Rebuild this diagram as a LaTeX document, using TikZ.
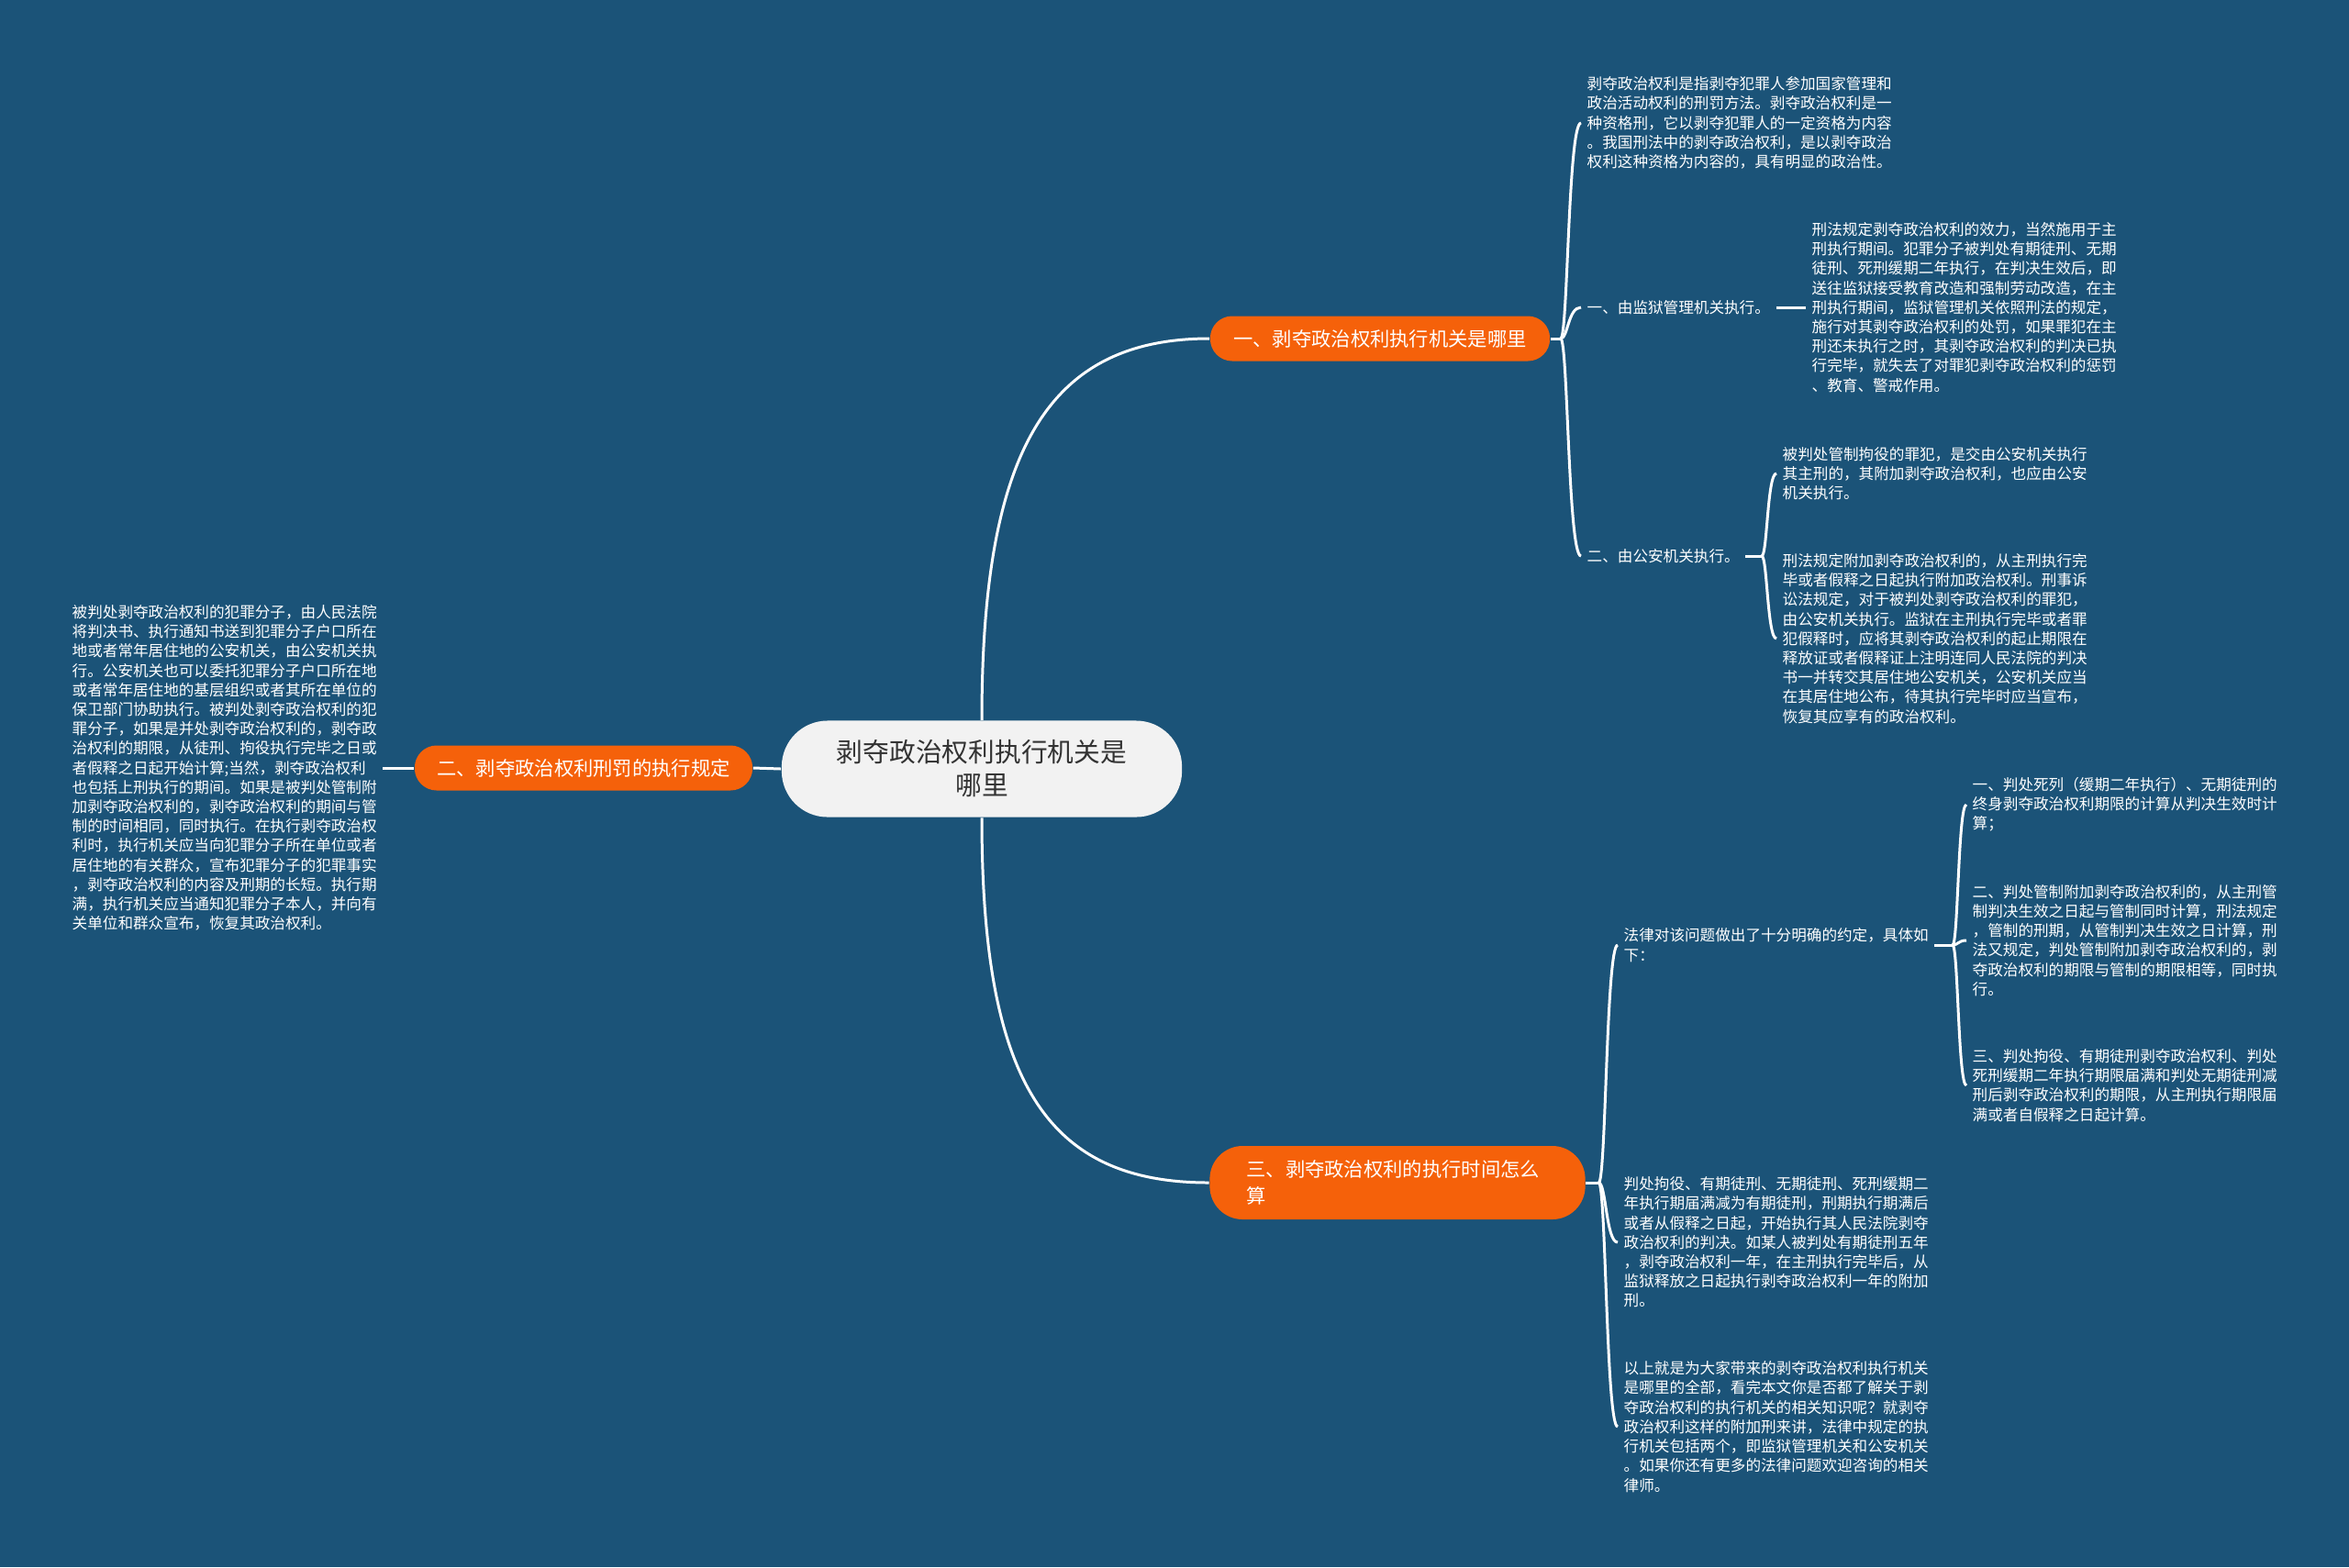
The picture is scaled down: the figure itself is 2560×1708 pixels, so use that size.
\documentclass[tikz,border=0pt]{standalone}
\usepackage{fontspec}
\setmainfont{Noto Sans CJK SC}
\usetikzlibrary{positioning,calc}
\definecolor{Bg}{HTML}{1B5378}
\definecolor{Orange}{HTML}{F5610A}
\definecolor{Root}{HTML}{F2F2F2}
\definecolor{Ink}{HTML}{333333}

\begin{document}
\begin{tikzpicture}[x=0.01cm,y=-0.01cm,
    root/.style={fill=Root,text=Ink,rounded corners=0.5cm,minimum width=4.36cm,
      minimum height=1.05cm,align=center,font=\fontsize{8.17}{10.24}\selectfont},
    topic/.style={fill=Orange,text=white,rounded corners=0.24cm,minimum height=0.49cm,
      align=center,font=\fontsize{6.06}{8.36}\selectfont},
    leaf/.style={text=white,anchor=west,align=left,inner sep=0.06cm,
      font=\fontsize{4.72}{6.03}\selectfont},
    link/.style={draw=white,line width=0.85pt}
  ]
  \fill[Bg] (0,0) rectangle (2560,1708);
  \useasboundingbox (0,0) rectangle (2560,1708);

  % centre and main topics
  \node[root] (root) at (1070,838) {剥夺政治权利执行机关是\\哪里};
  \node[topic,minimum width=3.7cm] (t1) at (1504,369) {一、剥夺政治权利执行机关是哪里};
  \node[topic,minimum width=3.68cm] (t2) at (636,837) {二、剥夺政治权利刑罚的执行规定};
  \node[topic,rounded corners=0.36cm,minimum height=0.8cm,text width=3.29cm,inner xsep=0.4cm,
    align=left] (t3) at (1523,1289) {三、剥夺政治权利的执行时间怎么\\算};

  \draw[link] (root.north) .. controls ($(root.north)+(0,-295)$) and ($(t1.west)+(-176,0)$) .. (t1.west);
  \draw[link] (root.south) .. controls ($(root.south)+(0,290)$) and ($(t3.west)+(-176,0)$) .. (t3.west);
  \draw[link] (root.west) -- (t2.east);

  % topic one
  \node[leaf] (def) at (1723,134) {剥夺政治权利是指剥夺犯罪人参加国家管理和\\政治活动权利的刑罚方法。剥夺政治权利是一\\种资格刑，它以剥夺犯罪人的一定资格为内容\\。我国刑法中的剥夺政治权利，是以剥夺政治\\权利这种资格为内容的，具有明显的政治性。};
  \node[leaf] (jail) at (1723,335) {一、由监狱管理机关执行。};
  \node[leaf] (jailtxt) at (1968,335) {刑法规定剥夺政治权利的效力，当然施用于主\\刑执行期间。犯罪分子被判处有期徒刑、无期\\徒刑、死刑缓期二年执行，在判决生效后，即\\送往监狱接受教育改造和强制劳动改造，在主\\刑执行期间，监狱管理机关依照刑法的规定，\\施行对其剥夺政治权利的处罚，如果罪犯在主\\刑还未执行之时，其剥夺政治权利的判决已执\\行完毕，就失去了对罪犯剥夺政治权利的惩罚\\、教育、警戒作用。};
  \node[leaf] (police) at (1723,606) {二、由公安机关执行。};
  \node[leaf] (polA) at (1936,516) {被判处管制拘役的罪犯，是交由公安机关执行\\其主刑的，其附加剥夺政治权利，也应由公安\\机关执行。};
  \node[leaf] (polB) at (1936,696) {刑法规定附加剥夺政治权利的，从主刑执行完\\毕或者假释之日起执行附加政治权利。刑事诉\\讼法规定，对于被判处剥夺政治权利的罪犯，\\由公安机关执行。监狱在主刑执行完毕或者罪\\犯假释时，应将其剥夺政治权利的起止期限在\\释放证或者假释证上注明连同人民法院的判决\\书一并转交其居住地公安机关，公安机关应当\\在其居住地公布，待其执行完毕时应当宣布，\\恢复其应享有的政治权利。};

  \coordinate (f1) at ($(t1.east)+(11,0)$);
  \draw[link] (t1.east) -- (f1);
  \foreach \c in {def,jail,police}
    \draw[link] (f1) .. controls ($(f1)+(8,0)$) and ($(f1|-\c.west)+(8,0)$) .. (\c.west);
  \draw[link] (jail.east) -- (jailtxt.west);
  \coordinate (f2) at (1920,606);
  \draw[link] (police.east) -- (f2);
  \foreach \c in {polA,polB}
    \draw[link] (f2) .. controls ($(f2)+(6,0)$) and ($(f2|-\c.west)+(6,0)$) .. (\c.west);

  % topic two
  \node[leaf] (rule) at (72,837) {被判处剥夺政治权利的犯罪分子，由人民法院\\将判决书、执行通知书送到犯罪分子户口所在\\地或者常年居住地的公安机关，由公安机关执\\行。公安机关也可以委托犯罪分子户口所在地\\或者常年居住地的基层组织或者其所在单位的\\保卫部门协助执行。被判处剥夺政治权利的犯\\罪分子，如果是并处剥夺政治权利的，剥夺政\\治权利的期限，从徒刑、拘役执行完毕之日或\\者假释之日起开始计算;当然，剥夺政治权利\\也包括上刑执行的期间。如果是被判处管制附\\加剥夺政治权利的，剥夺政治权利的期间与管\\制的时间相同，同时执行。在执行剥夺政治权\\利时，执行机关应当向犯罪分子所在单位或者\\居住地的有关群众，宣布犯罪分子的犯罪事实\\，剥夺政治权利的内容及刑期的长短。执行期\\满，执行机关应当通知犯罪分子本人，并向有\\关单位和群众宣布，恢复其政治权利。};
  \draw[link] (rule.east) -- (t2.west);

  % topic three
  \node[leaf] (law) at (1763,1030) {法律对该问题做出了十分明确的约定，具体如\\下：};
  \node[leaf] (termA) at (2143,877) {一、判处死列（缓期二年执行）、无期徒刑的\\终身剥夺政治权利期限的计算从判决生效时计\\算；};
  \node[leaf] (termB) at (2143,1025) {二、判处管制附加剥夺政治权利的，从主刑管\\制判决生效之日起与管制同时计算，刑法规定\\，管制的刑期，从管制判决生效之日计算，刑\\法又规定，判处管制附加剥夺政治权利的，剥\\夺政治权利的期限与管制的期限相等，同时执\\行。};
  \node[leaf] (termC) at (2143,1183) {三、判处拘役、有期徒刑剥夺政治权利、判处\\死刑缓期二年执行期限届满和判处无期徒刑减\\刑后剥夺政治权利的期限，从主刑执行期限届\\满或者自假释之日起计算。};
  \node[leaf] (example) at (1763,1354) {判处拘役、有期徒刑、无期徒刑、死刑缓期二\\年执行期届满减为有期徒刑，刑期执行期满后\\或者从假释之日起，开始执行其人民法院剥夺\\政治权利的判决。如某人被判处有期徒刑五年\\，剥夺政治权利一年，在主刑执行完毕后，从\\监狱释放之日起执行剥夺政治权利一年的附加\\刑。};
  \node[leaf] (summary) at (1763,1555) {以上就是为大家带来的剥夺政治权利执行机关\\是哪里的全部，看完本文你是否都了解关于剥\\夺政治权利的执行机关的相关知识呢？就剥夺\\政治权利这样的附加刑来讲，法律中规定的执\\行机关包括两个，即监狱管理机关和公安机关\\。如果你还有更多的法律问题欢迎咨询的相关\\律师。};

  \coordinate (f3) at ($(t3.east)+(14,0)$);
  \draw[link] (t3.east) -- (f3);
  \foreach \c in {law,example,summary}
    \draw[link] (f3) .. controls ($(f3)+(8,0)$) and ($(f3|-\c.west)+(8,0)$) .. (\c.west);
  \coordinate (f4) at (2128,1030);
  \draw[link] (law.east) -- (f4);
  \foreach \c in {termA,termB,termC}
    \draw[link] (f4) .. controls ($(f4)+(6,0)$) and ($(f4|-\c.west)+(6,0)$) .. (\c.west);
\end{tikzpicture}
\end{document}
